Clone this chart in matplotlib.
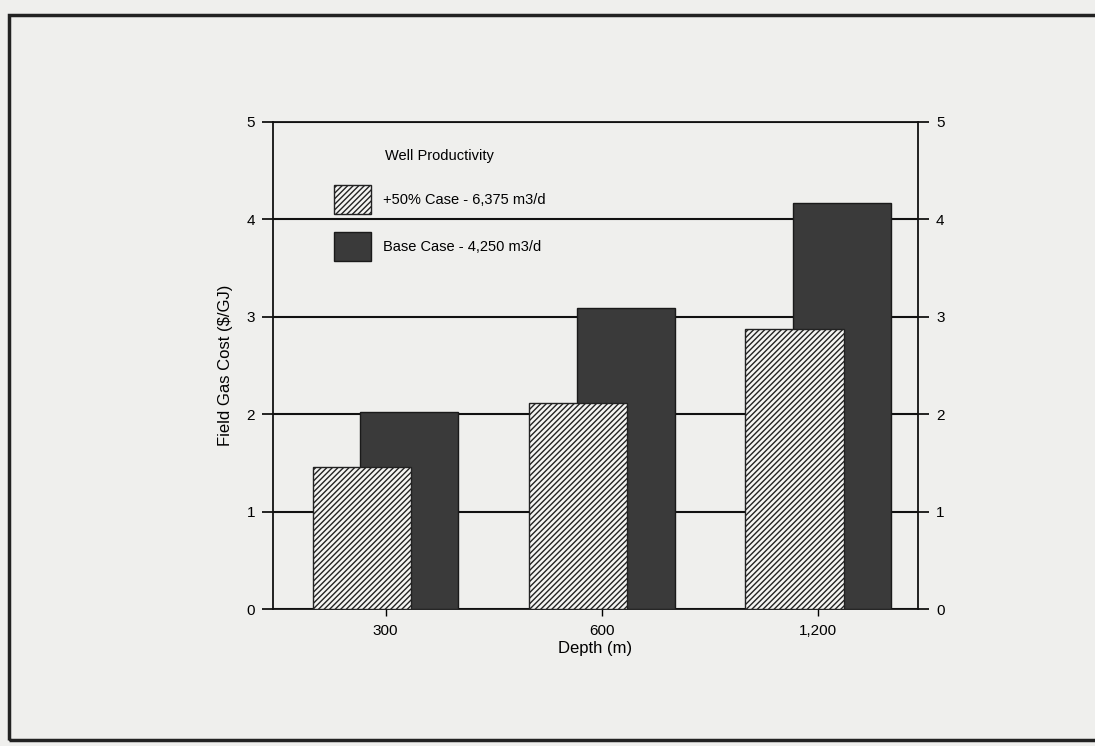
import matplotlib.pyplot as plt
from matplotlib.patches import Rectangle, Patch

# data
depths = ['300', '600', '1,200']
plus50_case = [1.46, 2.11, 2.87]
base_case = [2.02, 3.09, 4.17]
legend_labels = ['+50% Case - 6,375 m3/d', 'Base Case - 4,250 m3/d']

plt.rcParams['font.family'] = ['Liberation Sans', 'DejaVu Sans']

fig = plt.figure(figsize=(10.95, 7.46), dpi=100, facecolor='#efefed')
ax = fig.add_axes([0.2493, 0.1836, 0.589, 0.653])
ax.set_facecolor('none')

x = list(range(len(depths)))
w = 0.454
off = 0.11

# dark bars drawn first, hatched bars overlap in front
ax.bar([i + off for i in x], base_case, width=w, color='#3a3a3a',
       edgecolor='#1a1a1a', linewidth=1, zorder=3)
plt.rcParams['hatch.color'] = '#333333'
plt.rcParams['hatch.linewidth'] = 1.0
ax.bar([i - off for i in x], plus50_case, width=w, color='#f4f4f2',
       edgecolor='#222222', linewidth=1, hatch='//////', zorder=4)

ax.set_ylim(0, 5)
ax.set_xlim(-0.52, 2.46)
ax.set_yticks(range(6))
ax.set_xticks(x)
ax.set_xticklabels(depths)
ax.yaxis.grid(True, color='#111111', linewidth=1.5, zorder=1)
ax.set_axisbelow(True)

ax.tick_params(axis='y', direction='out', length=8, width=1.2, right=True,
               labelright=True, labelsize=11, pad=5)
ax.tick_params(axis='x', direction='out', length=5, width=1, labelsize=11, pad=6)
for s in ax.spines.values():
    s.set_color('#111111')
    s.set_linewidth(1.3)

ax.set_xlabel('Depth (m)', fontsize=12, labelpad=2)
ax.set_ylabel('Field Gas Cost ($/GJ)', fontsize=12, labelpad=10)

handles = [Patch(facecolor='#f4f4f2', edgecolor='#222222', hatch='//////'),
           Patch(facecolor='#3a3a3a', edgecolor='#1a1a1a')]
leg = ax.legend(handles, legend_labels, title='Well Productivity',
                loc='upper left', bbox_to_anchor=(0.075, 0.972), frameon=False,
                fontsize=10.5, title_fontsize=10.5, handlelength=2.5,
                handleheight=2.7, labelspacing=1.25, handletextpad=0.8)
leg._legend_box.sep = 16

# outer page border from the scan
fig.patches.append(Rectangle((0.008, 0.008), 1.2, 0.972, transform=fig.transFigure,
                             fill=False, edgecolor='#222222', linewidth=2.5))

fig.savefig('out.png', dpi=100, facecolor=fig.get_facecolor())
